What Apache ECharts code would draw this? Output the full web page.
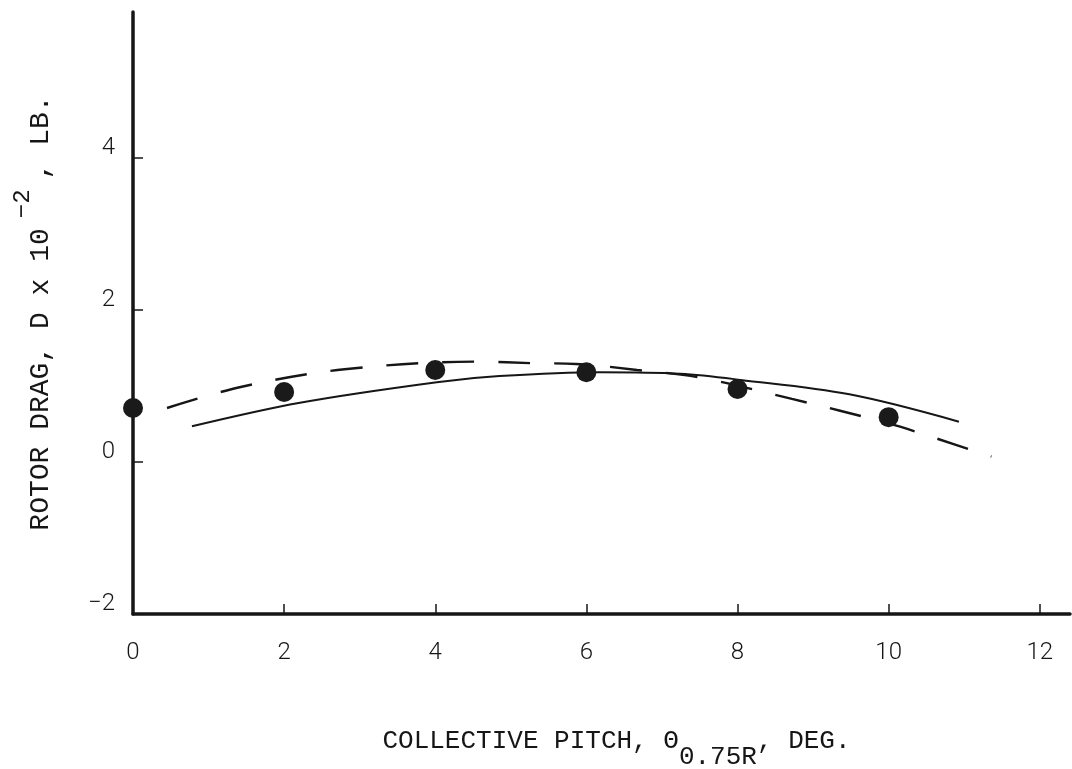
<!DOCTYPE html>
<html>
<head>
<meta charset="utf-8">
<script src="https://cdn.jsdelivr.net/npm/echarts@6/dist/echarts.min.js"></script>
<style>
  html, body { margin: 0; padding: 0; background: #ffffff; }
  #chart { width: 1072px; height: 769px; }
</style>
</head>
<body>
<div id="chart"></div>
<script>
// Measured rotor drag at each collective pitch setting
const pitchDeg = [0, 2, 4, 6, 8, 10];
const dragMeasured = [0.71, 0.92, 1.21, 1.18, 0.96, 0.59];

// Solid curve (x: pitch, y: drag)
const solidPitch = [0.78, 2.21, 4.02, 4.85, 6.18, 7.24, 8.04, 9.48, 10.93];
const solidDrag  = [0.47, 0.78, 1.05, 1.13, 1.18, 1.16, 1.08, 0.89, 0.53];

// Dashed curve (x: pitch, y: drag)
const dashPitch = [0.45, 1.44, 2.8, 4.59, 5.3, 5.86, 6.67, 7.5, 8.72, 9.99, 10.57, 11.36];
const dashDrag  = [0.71, 0.99, 1.22, 1.32, 1.30, 1.29, 1.21, 1.11, 0.83, 0.51, 0.33, 0.07];

// Tick labels
const xTicks = [0, 2, 4, 6, 8, 10, 12];
const yTicks = [-2, 0, 2, 4];

const ink = '#161616';
const typeFont = '"Liberation Mono", "DejaVu Sans Mono", monospace';
const tickFont = 'Roboto, "Liberation Sans", sans-serif';

const zip = (xs, ys) => xs.map((x, i) => [x, ys[i]]);
const minusSign = v => String(v).replace('-', '\u2212');

const chart = echarts.init(document.getElementById('chart'), null, { renderer: 'canvas' });

chart.setOption({
  animation: false,
  backgroundColor: '#ffffff',
  grid: {
    left: 133, right: 2, top: 12, bottom: 155,
    containLabel: false,
    outerBoundsMode: 'none'
  },
  xAxis: {
    type: 'value',
    min: 0,
    max: 12.4,
    interval: 2,
    splitLine: { show: false },
    axisLine: { show: true, onZero: false, lineStyle: { color: ink, width: 3.5 } },
    axisTick: { show: true, inside: true, length: 10, customValues: xTicks, lineStyle: { color: ink, width: 1.5 } },
    axisLabel: {
      customValues: xTicks,
      margin: 27,
      fontFamily: tickFont,
      fontWeight: 300,
      fontSize: 24,
      color: ink,
      formatter: minusSign
    },
    name: 'COLLECTIVE PITCH, \u0398{sub|0.75R}, DEG.',
    nameLocation: 'middle',
    nameGap: 98,
    nameTextStyle: {
      fontFamily: typeFont,
      fontSize: 26,
      color: ink,
      padding: [0, 0, 0, 30],
      rich: {
        sub: { fontFamily: typeFont, fontSize: 26, color: ink, verticalAlign: 'top', padding: [32, 0, 0, 0] }
      }
    }
  },
  yAxis: {
    type: 'value',
    min: -2,
    max: 5.92,
    interval: 2,
    splitLine: { show: false },
    axisLine: { show: true, onZero: false, lineStyle: { color: ink, width: 3.5 } },
    axisTick: { show: true, inside: true, length: 10, customValues: yTicks, lineStyle: { color: ink, width: 1.5 } },
    axisLabel: {
      customValues: yTicks,
      margin: 18,
      fontFamily: tickFont,
      fontWeight: 300,
      fontSize: 24,
      lineHeight: 20,
      verticalAlign: 'bottom',
      color: ink,
      formatter: minusSign
    },
    name: 'ROTOR DRAG, D x 10{sup|\u22122}, LB.',
    nameLocation: 'middle',
    nameGap: 62,
    nameRotate: 90,
    nameTextStyle: {
      fontFamily: typeFont,
      fontSize: 28,
      color: ink,
      rich: {
        sup: { fontFamily: typeFont, fontSize: 24, color: ink, padding: [0, 10, 36, 10] }
      }
    }
  },
  series: [
    {
      name: 'solid',
      type: 'line',
      data: zip(solidPitch, solidDrag),
      smooth: 0.35,
      showSymbol: false,
      lineStyle: { color: ink, width: 2 },
      z: 2
    },
    {
      name: 'dashed',
      type: 'line',
      data: zip(dashPitch, dashDrag),
      smooth: 0.35,
      showSymbol: false,
      lineStyle: { color: ink, width: 2.4, type: [32, 24] },
      z: 2
    },
    {
      name: 'measured',
      type: 'scatter',
      data: zip(pitchDeg, dragMeasured),
      symbol: 'circle',
      symbolSize: 20,
      itemStyle: { color: '#1a1a1a', opacity: 1 },
      z: 5
    }
  ]
});
</script>
</body>
</html>
